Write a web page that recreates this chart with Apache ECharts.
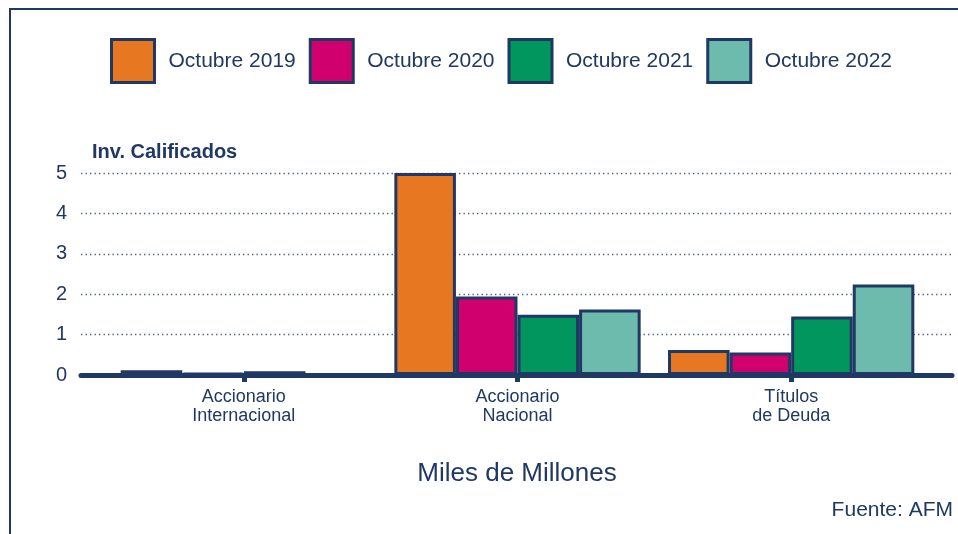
<!DOCTYPE html>
<html>
<head>
<meta charset="utf-8">
<script src="https://cdn.jsdelivr.net/npm/echarts@6/dist/echarts.min.js"></script>
<style>
  html, body { margin: 0; padding: 0; background: #fff; }
  #chart { width: 958px; height: 534px; }
</style>
</head>
<body>
<div id="chart"></div>
<script>
var categories = ['Accionario\nInternacional', 'Accionario\nNacional', 'Títulos\nde Deuda'];
var seriesNames = ['Octubre 2019', 'Octubre 2020', 'Octubre 2021', 'Octubre 2022'];
var oct2019 = [0.12, 5.0, 0.62];
var oct2020 = [0.05, 1.94, 0.56];
var oct2021 = [0.09, 1.49, 1.45];
var oct2022 = [0.03, 1.62, 2.24];
var yTicks = [0, 1, 2, 3, 4, 5];

var navy = '#1f3864';
var colors = ['#e87722', '#d0006f', '#00965e', '#6cbbad'];
var font = 'Liberation Sans, Arial, sans-serif';

var values = [oct2019, oct2020, oct2021, oct2022];

var series = seriesNames.map(function(name, i){
    return {
        name: name,
        type: 'bar',
        xAxisIndex: 0,
        yAxisIndex: 0,
        data: values[i],
        barGap: '0%',
        barCategoryGap: '10%',
        z: 3,
        itemStyle: {
            color: colors[i],
            borderColor: navy,
            borderWidth: 3
        }
    };
});

// helper series so the wide grid gets its axes drawn
series.push({
    type: 'line',
    xAxisIndex: 1,
    yAxisIndex: 1,
    data: [],
    silent: true
});

var chart = echarts.init(document.getElementById('chart'));
chart.setOption({
    animation: false,
    textStyle: { fontFamily: font },
    grid: [
        { left: 107, right: 30, top: 173, bottom: 159 },
        { left: 81, right: 6, top: 173, bottom: 159 }
    ],
    legend: {
        data: seriesNames,
        left: 105,
        top: 33,
        itemWidth: 43,
        itemHeight: 43,
        itemGap: 13,
        icon: 'rect',
        itemStyle: { borderColor: navy, borderWidth: 3 },
        textStyle: {
            color: navy,
            fontSize: 21,
            fontFamily: font,
            padding: [0, 0, 0, 9]
        }
    },
    xAxis: [
        {
            type: 'category',
            gridIndex: 0,
            data: categories,
            axisLine: { show: false },
            axisTick: {
                show: true,
                alignWithLabel: true,
                length: 7,
                lineStyle: { color: navy, width: 5 }
            },
            axisLabel: {
                color: navy,
                fontSize: 18,
                lineHeight: 19,
                margin: 13,
                fontFamily: font
            },
            z: 5
        },
        {
            type: 'value',
            gridIndex: 1,
            min: 0,
            max: 1,
            axisLine: { show: true, lineStyle: { color: navy, width: 5 } },
            axisTick: { show: false },
            axisLabel: { show: false },
            splitLine: { show: false },
            z: 6
        }
    ],
    yAxis: [
        {
            type: 'value',
            gridIndex: 0,
            min: 0,
            max: 5,
            interval: 1,
            axisLine: { show: false },
            axisTick: { show: false },
            axisLabel: { show: false },
            splitLine: { show: false }
        },
        {
            type: 'value',
            gridIndex: 1,
            min: yTicks[0],
            max: yTicks[yTicks.length - 1],
            interval: 1,
            axisLine: { show: false },
            axisTick: { show: false },
            axisLabel: {
                color: navy,
                fontSize: 20,
                margin: 14,
                fontFamily: font
            },
            splitLine: {
                show: true,
                lineStyle: { color: '#4f6088', width: 1.4, type: [1.4, 3.1] }
            }
        }
    ],
    graphic: [
        {
            type: 'polyline',
            shape: { points: [[10, 540], [10, 9], [965, 9]] },
            style: { stroke: navy, lineWidth: 2, fill: null },
            silent: true
        },
        {
            type: 'text',
            left: 92,
            top: 142,
            style: {
                text: 'Inv. Calificados',
                fill: navy,
                font: 'bold 20px ' + font
            }
        },
        {
            type: 'text',
            x: 517,
            y: 474,
            style: {
                text: 'Miles de Millones',
                fill: navy,
                font: '26px ' + font,
                textAlign: 'center',
                textVerticalAlign: 'middle'
            }
        },
        {
            type: 'text',
            x: 953,
            y: 510,
            style: {
                text: 'Fuente: AFM',
                fill: navy,
                font: '21px ' + font,
                textAlign: 'right',
                textVerticalAlign: 'middle'
            }
        }
    ],
    series: series
});
</script>
</body>
</html>
